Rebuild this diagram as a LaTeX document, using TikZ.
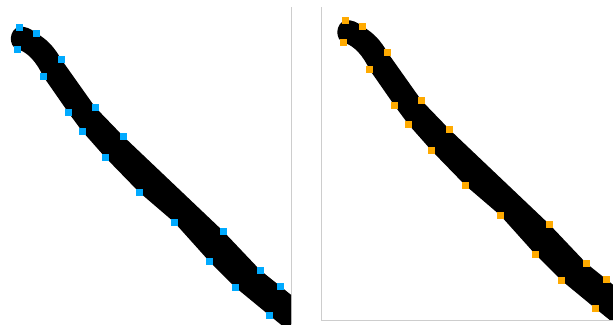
\documentclass[tikz,border=0pt]{standalone}
\definecolor{sqblue}{RGB}{0,170,255}
\definecolor{sqorange}{RGB}{255,170,0}
\definecolor{framegray}{RGB}{205,205,205}
\newcommand\inkoutline{(19,27) .. controls (26,26) and (31,29) .. (36,33) .. controls (48,40) and (54,47) .. (61,59) -- (95,107) -- (123,136) -- (223,231) -- (260,270) -- (280,286) -- (315,314) -- (315,350) -- (300,340) -- (269,315) -- (235,287) -- (209,261) -- (174,222) -- (139,192) -- (105,157) -- (82,131) -- (68,112) -- (43,76) .. controls (37,63) and (28,52) .. (17,49) .. controls (8,46) and (9,29) .. (19,27) -- cycle}
\newcommand\inkpoints{19/27,36/33,17/49,61/59,43/76,95/107,68/112,82/131,123/136,105/157,139/192,174/222,223/231,209/261,260/270,280/286,235/287,269/315}
\tikzset{
  ink/.style={fill=black, line join=round},
  framestyle/.style={draw=framegray, line width=1pt},
}
\begin{document}
\begin{tikzpicture}[x=1pt,y=-1pt]
\fill[white] (0,0) rectangle (613,324);
\useasboundingbox (0,0) rectangle (613,324);
% left panel
\draw[framestyle] (291.5,7) -- (291.5,324);
\begin{scope}
  \clip (0,0) rectangle (291,324);
  \fill[ink] \inkoutline;
  \foreach \x/\y in \inkpoints { \fill[sqblue] (\x-3.5,\y-3.5) rectangle ++(7,7); }
\end{scope}
% right panel
\draw[framestyle] (321,7) -- (321,320) -- (613,320);
\begin{scope}
  \clip (321.5,0) rectangle (613,319.5);
  \begin{scope}[shift={(326.5,-6.5)}]
    \fill[ink] \inkoutline;
    \foreach \x/\y in \inkpoints { \fill[sqorange] (\x-3.5,\y-3.5) rectangle ++(7,7); }
  \end{scope}
\end{scope}
\end{tikzpicture}
\end{document}
